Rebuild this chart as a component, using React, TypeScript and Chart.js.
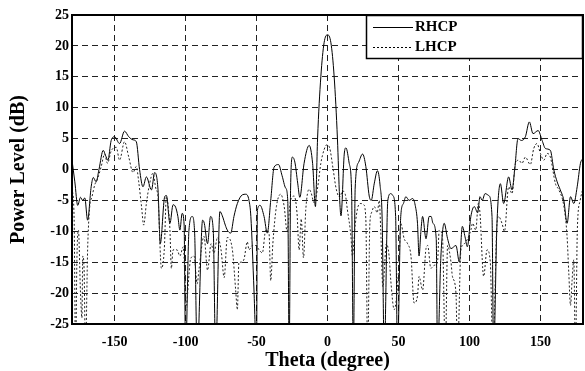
import { useEffect, useRef } from 'react';
import { Chart, registerables } from 'chart.js';

Chart.register(...registerables);

const seriesNames = ['RHCP', 'LHCP'];

const rhcpTheta = [
  -180, -178, -176, -174, -172.5, -171, -169, -166.5, -165, -163, -161, -158, -156.4, -154.7, -152.4, -150,
  -146.5, -143, -140, -137, -134.7, -132.4, -130, -127.6, -124, -121.8, -119.4, -117.8, -114.7, -113.5, -111,
  -108.8, -107, -105.4, -104, -102.4, -101, -100, -97.6, -95.3, -93.6, -91.8, -88, -86.8, -84.5, -82.4, -80.5,
  -78.8, -75.8, -74.1, -72, -70.6, -68.2, -65.9, -63.5, -60, -57.6, -55.3, -54, -51.8, -50, -49.4, -47.5, -44.7,
  -42.4, -40, -37.6, -34.5, -32, -29.5, -28, -27, -26, -24.7, -23, -21, -19.5, -16.5, -12.9, -10.5, -8.5, -7,
  -4.7, -2.4, 0, 2.4, 4.7, 7, 8.5, 9.5, 11.8, 13, 15.3, 17, 18.2, 19.5, 22, 24.7, 27, 29.4, 30.8, 33, 35.2, 37,
  38.5, 40, 42.5, 44.6, 46, 48, 49.3, 51.6, 53.5, 55.2, 57.5, 60, 61.8, 63.4, 64.5, 65.8, 67, 69.4, 71.6, 73,
  74.3, 76.6, 77.5, 79.9, 82.2, 84.6, 87, 90.5, 92.9, 95, 96.9, 98.5, 101, 103.4, 105.8, 107.4, 109, 111, 113.5,
  115.9, 117, 119.4, 121.8, 124.1, 127.6, 130, 131.9, 134.2, 136.6, 139.4, 142.2, 144.8, 148.4, 151.2, 153.5,
  157, 159.4, 161.8, 164, 166.5, 168.8, 171.2, 173.5, 175.9, 178.2, 180,
];
const rhcpDb = [
  1.5, -2, -5.8, -4.5, -5, -4.6, -8.2, -2.8, -1.3, -2, 0, 3.1, 2.3, 1.5, 4.7, 5.3,
  4.2, 6.2, 5.3, 4.8, 4.5, 0, -2.8, -1.2, -3.3, -0.5, -3.3, -12, -4.4, -4.2, -8.7,
  -5.7, -6.1, -7.6, -9.8, -7.1, -9, -30, -9.8, -7.6, -10.3, -30, -8.2, -8.7, -12, -7.6, -9.8,
  -30, -6.8, -7.5, -9, -9.8, -10.3, -7.6, -5.5, -4.1, -4, -5, -7.6, -19.5, -30, -6.6, -5.8, -7.6,
  -10.3, -5, 0.4, 0.8, -1, -3, -5, -30, -3, 2, 1.2, -2.2, -4.5, 1, 3.9, 1, -6, 5,
  15, 20.5, 21.8, 20.5, 15, 5, -4.5, -7.5, 2.5, 3.5, 1, -3.8, -30, -3, 1.2, 2.5, 0.5, -4.3, -5, -2.2, -0.2, -2.5,
  -8, -30, -5, -3.9, -4.2, -7.6, -30, -7.6, -5.5, -4.4, -5, -4.7, -5.8, -8.7, -14, -10, -7.6, -11.2, -7.6, -7.6,
  -8.7, -11.2, -30, -14, -8.7, -11.2, -12.8, -12.3, -15, -9.2, -10.9, -12.5, -7.6, -6, -7, -4.4, -5, -3.9, -4.2,
  -7.6, -30, -8.7, -2.3, -5.5, -1.2, -3.3, 0, 5, 4.7, 5.3, 7.7, 5.8, 6.3, 4.7, 3.4,
  3.1, 0, -2, -3.3, -5, -8.7, -4.4, -5.5, -2.8, 1, 1.8,
];

const lhcpTheta = [
  -180, -178.5, -177.5, -176.5, -175.5, -174, -173, -172.4, -171.5, -170.5, -169, -167.5, -166, -164, -162,
  -159.4, -157, -155, -152.4, -148.8, -146.5, -143, -140, -137, -134.7, -133, -131, -129.5, -127.6, -125.5,
  -123, -121, -119.4, -117, -115, -113.5, -112, -111, -110, -108.8, -106, -104, -101.6, -99.5, -97.6, -96.5,
  -94, -91.8, -90.6, -87, -84.5, -82, -80, -77.5, -75, -72.8, -70.6, -67, -64.7, -63.5, -62.4, -61, -58.8,
  -56.5, -55.3, -53, -50.6, -48.2, -45.9, -43.5, -41.2, -40, -38.5, -36, -33, -30.5, -28.5, -26, -23.5, -21.5,
  -20, -18.5, -16.9, -15.3, -13, -11.5, -9.4, -7, -4.7, -2.4, -0.5, 1.5, 4, 6, 8.5, 10.6, 12.5, 14, 16.5, 17.5,
  19.5, 21.5, 23.5, 25.5, 27, 28.3, 29.8, 31, 33, 35, 36.5, 37.5, 39, 41.5, 43.4, 44.6, 47, 50.4, 51.6, 54, 56.4,
  58.8, 61, 63.4, 64.5, 67, 69.4, 70.6, 72.8, 75.2, 77.5, 78.7, 81, 83, 84.6, 87, 88, 90.5, 91.6, 94, 96.4, 98.7,
  101, 102.2, 104.5, 106.2, 107.4, 110, 112.4, 114.7, 116.5, 119.4, 120.6, 122.9, 124.7, 127.6, 130, 132.4,
  134.7, 137, 139.4, 142.9, 145.3, 147.6, 150, 152.4, 154.7, 157, 160.6, 163, 166.5, 168.8, 170, 171.2, 172.3,
  173.5, 174.7, 176, 178, 180,
];
const lhcpDb = [
  -3, -8, -30, -14, -9.8, -20, -24, -14, -16, -30, -13, -6, -4.5, -2.5, -1.5,
  0.5, 2.5, 1, 3, 3.6, 1.5, 4.5, 2, -0.5, 0.5, -2, -6, -9, -5.5, -2.5,
  -0.6, -3, -4.5, -16, -13, -4.4, -6.5, -9.8, -16, -13, -13, -14, -12.5, -22, -17, -14.5,
  -14, -18.5, -16.3, -10.8, -16.3, -12, -13.5, -11, -13, -17.5, -11, -13, -19.5, -22.7, -15, -15, -14.5,
  -11.7, -13, -12.3, -12.3, -13, -13.5, -9.8, -10.3, -18, -12, -6, -4, -6, -10, -5, -4.3, -7,
  -13, -8, -14.3, -6.5, -3.2, -3.8, -5.4, -3, 1, 3.2, 4, 3.5, 0, -3, -4.5, -3.5, -4, -6.5, -10.8, -14,
  -9, -6, -5.5, -5.7, -8, -30, -9, -7, -6, -7, -5, -9.8, -19, -12, -14, -18, -22.7, -15, -8.7, -11.2, -12,
  -14, -21.6, -20.5, -17.3, -19.5, -12.8, -12.3, -16, -15.5, -15, -9.8, -11, -30, -12.3, -15, -17.3, -20, -30, -13, -12, -11.2,
  -9.8, -8.7, -9.8, -5.5, -7, -17.3, -13, -15, -30, -8.7, -7.6, -8.7, -10, -2.8, -3.9, 1,
  1.5, 1, 2, 0.8, 3.4, 4.2, 2.6, 1.5, 2.6, 2, -2.3, -3.3, -5.9, -10.9, -16.8, -22, -18,
  -14.6, -30, -9.8, -5, -3,
];

const xTickValues = [-150, -100, -50, 0, 50, 100, 150];
const yTickValues = [-25, -20, -15, -10, -5, 0, 5, 10, 15, 20, 25];

const FONT = '"Liberation Serif", "Times New Roman", serif';

export default function App() {
  const ref = useRef<HTMLCanvasElement>(null);

  useEffect(() => {
    if (!ref.current) return;
    const framePlugin = {
      id: 'frameAndLegend',
      afterDraw(chart: any) {
        const { ctx, chartArea } = chart;
        const { left, top, right, bottom } = chartArea;
        ctx.save();
        const lw = 217;
        const lh = 44;
        const lx = right - lw;
        ctx.fillStyle = '#fff';
        ctx.fillRect(lx, top, lw, lh);
        ctx.strokeStyle = '#000';
        ctx.lineWidth = 1.5;
        ctx.strokeRect(lx + 0.5, top + 0.5, lw - 1, lh - 1);
        ctx.lineWidth = 1;
        ctx.beginPath();
        ctx.moveTo(lx + 7, top + 12.5);
        ctx.lineTo(lx + 47, top + 12.5);
        ctx.stroke();
        ctx.setLineDash([2, 2]);
        ctx.beginPath();
        ctx.moveTo(lx + 7, top + 32.5);
        ctx.lineTo(lx + 47, top + 32.5);
        ctx.stroke();
        ctx.setLineDash([]);
        ctx.fillStyle = '#000';
        ctx.font = `bold 15px ${FONT}`;
        ctx.textBaseline = 'middle';
        ctx.textAlign = 'left';
        ctx.fillText(seriesNames[0], lx + 49, top + 12.5);
        ctx.fillText(seriesNames[1], lx + 49, top + 32.5);
        ctx.lineWidth = 2;
        ctx.strokeStyle = '#000';
        ctx.strokeRect(left, top, right - left, bottom - top);
        ctx.restore();
      },
    };

    const chart = new Chart(ref.current, {
      type: 'line',
      data: {
        datasets: [
          {
            label: seriesNames[1],
            data: lhcpTheta.map((t, i) => ({ x: t, y: lhcpDb[i] })),
            borderColor: '#222',
            borderWidth: 1,
            borderDash: [2, 2],
            pointRadius: 0,
            fill: false,
            cubicInterpolationMode: 'monotone',
          },
          {
            label: seriesNames[0],
            data: rhcpTheta.map((t, i) => ({ x: t, y: rhcpDb[i] })),
            borderColor: '#000',
            borderWidth: 1,
            pointRadius: 0,
            fill: false,
            cubicInterpolationMode: 'monotone',
          },
        ],
      },
      options: {
        responsive: false,
        animation: false,
        layout: { padding: { top: 15, right: 2, left: 0, bottom: 0 } },
        plugins: { legend: { display: false }, tooltip: { enabled: false } },
        scales: {
          x: {
            type: 'linear',
            min: -180,
            max: 180,
            afterBuildTicks: (s: any) => {
              s.ticks = xTickValues.map((v) => ({ value: v }));
            },
            afterFit: (s: any) => {
              s.height = 47;
            },
            grid: { color: '#222', lineWidth: 1, drawTicks: false },
            border: { display: false, dash: [6, 4] },
            ticks: {
              color: '#000',
              padding: 10,
              maxRotation: 0,
              font: { family: FONT, size: 14, weight: 'bold' },
            },
            title: {
              display: true,
              text: 'Theta (degree)',
              color: '#000',
              font: { family: FONT, size: 20, weight: 'bold', lineHeight: 1 },
              padding: { top: 0, bottom: 0 },
            },
          },
          y: {
            type: 'linear',
            min: -25,
            max: 25,
            afterBuildTicks: (s: any) => {
              s.ticks = yTickValues.map((v) => ({ value: v }));
            },
            afterFit: (s: any) => {
              s.width = 72;
            },
            grid: { color: '#222', lineWidth: 1, drawTicks: false },
            border: { display: false, dash: [6, 4] },
            ticks: {
              color: '#000',
              padding: 3,
              font: { family: FONT, size: 14, weight: 'bold' },
            },
            title: {
              display: true,
              text: 'Power Level (dB)',
              color: '#000',
              font: { family: FONT, size: 20, weight: 'bold', lineHeight: 1 },
              padding: { top: 9, bottom: 0 },
            },
          },
        },
      },
      plugins: [framePlugin],
    } as any);

    return () => chart.destroy();
  }, []);

  return (
    <div style={{ position: 'fixed', left: 0, top: 0, width: 585, height: 371, background: '#fff' }}>
      <canvas ref={ref} width={585} height={371} style={{ display: 'block' }} />
    </div>
  );
}
